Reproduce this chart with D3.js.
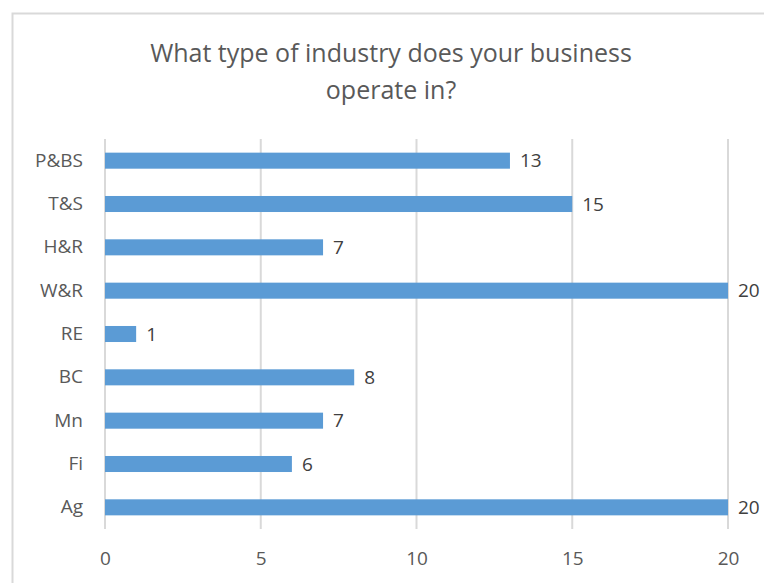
<!DOCTYPE html>
<html>
<head>
<meta charset="utf-8">
<script src="https://cdn.jsdelivr.net/npm/d3@7.9.0/dist/d3.min.js"></script>
<style>
  body { margin: 0; background: #fff; }
  svg { display: block; font-family: "Open Sans", "Liberation Sans", sans-serif; }
</style>
</head>
<body>
<svg id="chart" width="764" height="583"></svg>
<script>
const categories = ["P&BS", "T&S", "H&R", "W&R", "RE", "BC", "Mn", "Fi", "Ag"];
const values = [13, 15, 7, 20, 1, 8, 7, 6, 20];
const xTicks = [0, 5, 10, 15, 20];
const titleLines = ["What type of industry does your business", "operate in?"];

const svg = d3.select("#chart");
const margin = {top: 139, right: 36, bottom: 54, left: 105};
const width = 764 - margin.left - margin.right,
      height = 583 - margin.top - margin.bottom;

// chart border (cropped on right / bottom)
svg.append("rect")
  .attr("x", 12.5).attr("y", 13.5)
  .attr("width", 800).attr("height", 600)
  .attr("fill", "none")
  .attr("stroke", "#d9d9d9")
  .attr("stroke-width", 2);

svg.selectAll(".title")
  .data(titleLines)
  .enter()
  .append("text")
  .attr("x", 391)
  .attr("y", (d, i) => 62 + i * 37)
  .attr("text-anchor", "middle")
  .attr("fill", "#595959")
  .style("font-size", "25px")
  .text(d => d);

const g = svg.append("g").attr("transform", `translate(${margin.left},${margin.top})`);

const x = d3.scaleLinear().domain([0, 20]).range([0, width]);
const y = d3.scaleBand().domain(categories).range([0, height]).paddingInner(0.63).paddingOuter(0.315);

// gridlines
g.selectAll(".grid")
  .data(xTicks)
  .enter()
  .append("line")
  .attr("x1", d => x(d)).attr("x2", d => x(d))
  .attr("y1", 0).attr("y2", height)
  .attr("stroke", "#d9d9d9")
  .attr("stroke-width", 2);

// x tick labels
const xAxis = g.append("g")
  .attr("transform", `translate(0,${height})`)
  .call(d3.axisBottom(x).tickValues(xTicks).tickSize(0).tickPadding(23));
xAxis.select(".domain").remove();
xAxis.selectAll("text")
  .attr("fill", "#595959")
  .style("font-size", "19px")
  .style("font-family", "\"Open Sans\", sans-serif");

// y labels
const yAxis = g.append("g")
  .call(d3.axisLeft(y).tickSize(0).tickPadding(22));
yAxis.select(".domain").remove();
yAxis.selectAll("text")
  .attr("fill", "#595959")
  .style("font-size", "19px")
  .style("font-family", "\"Open Sans\", sans-serif");

const data = categories.map((c, i) => ({cat: c, value: values[i]}));

g.selectAll(".bar")
  .data(data)
  .enter()
  .append("rect")
  .attr("x", 0)
  .attr("y", d => y(d.cat))
  .attr("width", d => x(d.value))
  .attr("height", y.bandwidth())
  .attr("fill", "#5b9bd5");

g.selectAll(".val")
  .data(data)
  .enter()
  .append("text")
  .attr("x", d => x(d.value) + 10)
  .attr("y", d => y(d.cat) + y.bandwidth() / 2)
  .attr("dy", "0.35em")
  .attr("fill", "#404040")
  .style("font-size", "19px")
  .text(d => d.value);
</script>
</body>
</html>
